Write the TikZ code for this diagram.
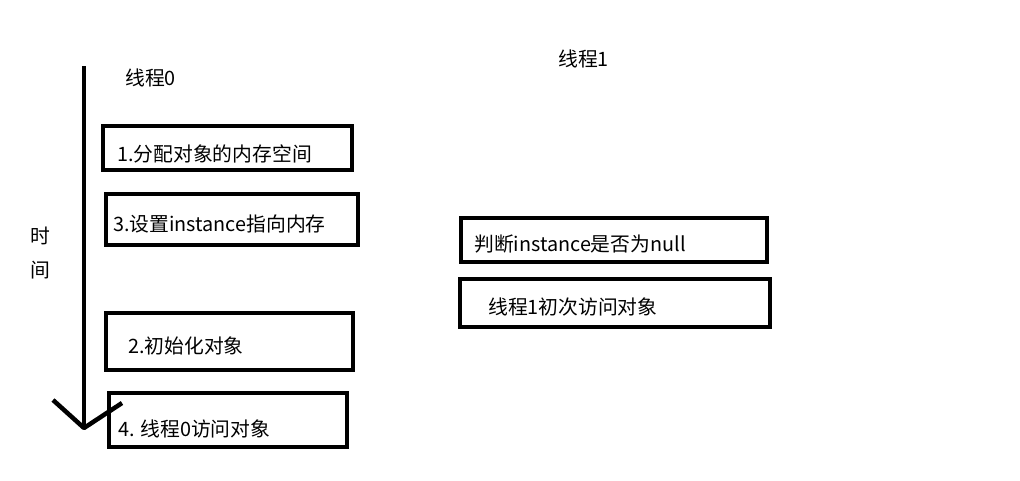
\documentclass[tikz,border=0pt]{standalone}
\usepackage{fontspec}
\setmainfont{Noto Sans CJK SC}
\begin{document}
\begin{tikzpicture}[x=1pt,y=-1pt,
  stepbox/.style={draw=black,line width=4.5pt,minimum width=#1,inner sep=0pt},
  lbl/.style={anchor=west,inner sep=0pt,font=\fontsize{19.8}{22}\selectfont},
  thick line/.style={line width=4.5pt,line cap=butt,line join=round}]
\useasboundingbox (0,0) rectangle (1020,480);
\fill[white] (0,0) rectangle (1020,480);
% thread headings
\node[lbl] (t0) at (125,78) {线程0};
\node[lbl] (t1) at (558,59) {线程1};
% time axis label
\node[lbl] (shi) at (30,236) {时};
\node[lbl] (jian) at (30,270) {间};
% thread 0 boxes
\node[stepbox=249pt,minimum height=44pt] (b1) at (227.5,148) {};
\node[stepbox=252pt,minimum height=51pt] (b3) at (232,219.5) {};
\node[stepbox=247pt,minimum height=57pt] (b2) at (229.5,341.5) {};
\node[stepbox=238pt,minimum height=54pt] (b4) at (228,420) {};
\node[lbl] (l1) at (117,154) {1.分配对象的内存空间};
\node[lbl] (l3) at (113,224) {3.设置instance指向内存};
\node[lbl] (l2) at (128,346) {2.初始化对象};
\node[lbl] (l4) at (118,429) {4. 线程0访问对象};
% thread 1 boxes
\node[stepbox=306pt,minimum height=44pt] (r1) at (614,240) {};
\node[stepbox=310pt,minimum height=48pt] (r2) at (615,303) {};
\node[lbl] (m1) at (474,244) {判断instance是否为null};
\node[lbl] (m2) at (488,307) {线程1初次访问对象};
% time arrow
\coordinate (top) at (84,66);
\coordinate (tip) at (84,428);
\coordinate (armL) at (53,400);
\coordinate (armR) at (122,403);
\draw[thick line] (top) -- (tip);
\draw[thick line] (armL) -- (tip) -- (armR);
\end{tikzpicture}
\end{document}
